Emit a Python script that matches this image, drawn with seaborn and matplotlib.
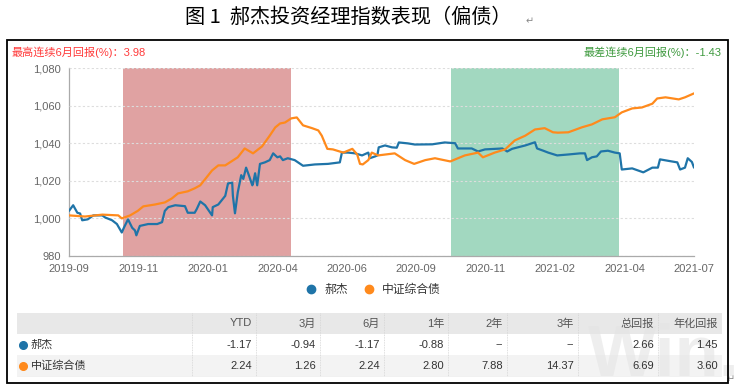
import matplotlib
matplotlib.use("Agg")
import matplotlib.pyplot as plt
import numpy as np
import pandas as pd
import seaborn as sns
from matplotlib.lines import Line2D
from matplotlib.patches import Rectangle
from matplotlib.ticker import FuncFormatter


# x positions are in units of the category axis (one unit per tick label)
TICK_LABELS = ["2019-09", "2019-11", "2020-01", "2020-04", "2020-06",
               "2020-09", "2020-11", "2021-02", "2021-04", "2021-07"]

HAOJIE_POS = [0.00, 0.06, 0.12, 0.16, 0.19, 0.27, 0.35, 0.48, 0.52, 0.62, 0.69, 0.76,
              0.79, 0.85, 0.91, 0.95, 0.97, 1.02, 1.14, 1.27, 1.34, 1.38, 1.43, 1.53,
              1.67, 1.71, 1.81, 1.84, 1.89, 1.96, 2.06, 2.07, 2.15, 2.25, 2.29, 2.35,
              2.36, 2.39, 2.43, 2.48, 2.51, 2.55, 2.58, 2.64, 2.65, 2.68, 2.71, 2.75,
              2.82, 2.89, 2.94, 3.00, 3.04, 3.08, 3.15, 3.25, 3.37, 3.54, 3.73, 3.90,
              3.93, 4.02, 4.12, 4.22, 4.31, 4.33, 4.41, 4.44, 4.46, 4.55, 4.65, 4.72,
              4.75, 4.88, 4.98, 5.23, 5.41, 5.56, 5.60, 5.80, 5.89, 5.99, 6.24, 6.31,
              6.38, 6.57, 6.71, 6.74, 6.83, 6.90, 7.03, 7.19, 7.36, 7.43, 7.46, 7.53,
              7.60, 7.66, 7.76, 7.86, 7.93, 7.96, 8.11, 8.27, 8.40, 8.48, 8.51, 8.68,
              8.76, 8.80, 8.87, 8.91, 8.97, 9.00]
HAOJIE_NAV = [1004.0, 1007.0, 1003.0, 1002.6, 999.0, 999.5, 1001.6, 1001.6, 1000.5, 999.0,
              997.0, 992.5, 995.0, 999.5, 995.0, 993.6, 991.0, 996.0, 997.0, 997.0,
              998.0, 1004.0, 1006.0, 1007.0, 1006.5, 1003.0, 1003.0, 1005.0, 1009.0, 1007.0,
              1001.6, 1006.0, 1007.4, 1012.0, 1018.6, 1019.0, 1012.0, 1002.7, 1013.8, 1023.0,
              1021.0, 1027.0, 1024.0, 1017.6, 1018.6, 1024.0, 1017.6, 1029.0, 1029.8, 1031.0,
              1034.6, 1032.5, 1033.0, 1031.0, 1032.0, 1031.0, 1028.0, 1028.7, 1029.0, 1029.8,
              1035.0, 1035.0, 1034.6, 1033.5, 1035.0, 1032.0, 1033.0, 1033.5, 1037.8, 1038.8,
              1037.8, 1037.6, 1040.4, 1039.9, 1039.3, 1039.4, 1040.4, 1040.0, 1037.2, 1037.2,
              1035.6, 1036.7, 1037.2, 1035.6, 1037.0, 1038.8, 1040.5, 1037.2, 1036.0, 1035.0,
              1033.5, 1034.0, 1034.6, 1034.6, 1031.0, 1032.5, 1033.0, 1035.6, 1036.0, 1035.0,
              1034.6, 1026.0, 1026.6, 1024.5, 1027.0, 1027.0, 1031.4, 1030.3, 1029.8, 1026.0,
              1027.0, 1032.0, 1030.0, 1027.0]

INDEX_POS = [0.00, 0.23, 0.48, 0.71, 0.76, 0.88, 0.99, 1.07, 1.24, 1.38, 1.48, 1.57,
             1.71, 1.81, 1.89, 2.06, 2.15, 2.25, 2.43, 2.53, 2.65, 2.78, 2.89, 2.97,
             3.04, 3.11, 3.20, 3.28, 3.37, 3.50, 3.59, 3.64, 3.72, 3.80, 3.95, 4.08,
             4.15, 4.19, 4.23, 4.31, 4.36, 4.45, 4.69, 4.84, 4.97, 5.13, 5.27, 5.49,
             5.70, 5.89, 5.96, 6.13, 6.28, 6.42, 6.57, 6.71, 6.85, 6.97, 7.04, 7.19,
             7.39, 7.53, 7.68, 7.86, 7.96, 8.11, 8.25, 8.40, 8.47, 8.59, 8.78, 8.87, 9.00]
INDEX_NAV = [1001.6, 1001.0, 1002.0, 1001.6, 1000.0, 1001.6, 1004.0, 1006.4, 1007.4, 1008.5,
             1010.6, 1013.3, 1014.4, 1016.0, 1017.6, 1025.5, 1028.2, 1028.2, 1032.5, 1037.2,
             1034.6, 1038.3, 1044.0, 1048.4, 1050.5, 1051.0, 1053.2, 1053.7, 1049.5, 1048.0,
             1046.8, 1044.0, 1037.0, 1036.7, 1035.0, 1037.0, 1034.0, 1029.0, 1028.7, 1031.0,
             1035.0, 1033.5, 1034.6, 1031.0, 1029.0, 1031.0, 1032.0, 1030.3, 1033.5, 1035.0,
             1032.5, 1035.0, 1036.7, 1041.5, 1044.0, 1047.3, 1048.0, 1045.8, 1045.6, 1045.8,
             1048.5, 1050.0, 1052.7, 1053.8, 1056.4, 1058.5, 1059.0, 1061.0, 1063.8, 1064.4,
             1063.3, 1064.4, 1066.5]

SERIES_NAMES = ["郝杰", "中证综合债"]
BEST_SPAN = [0.78, 3.20]
WORST_SPAN = [5.50, 7.92]
BEST_TEXT = "最高连续6月回报(%)：3.98"
WORST_TEXT = "最差连续6月回报(%)：-1.43"

TABLE_COLUMNS = ["YTD", "3月", "6月", "1年", "2年", "3年", "总回报", "年化回报"]
HAOJIE_RETURNS = ["-1.17", "-0.94", "-1.17", "-0.88", "--", "--", "2.66", "1.45"]
INDEX_RETURNS = ["2.24", "1.26", "2.24", "2.80", "7.88", "14.37", "6.69", "3.60"]

BLUE = "#1f74a8"
ORANGE = "#ff8a1c"
W, H = 736, 387

sns.set_style("white")
plt.rcParams["font.family"] = ["Liberation Sans", "Noto Sans CJK SC", "DejaVu Sans"]

df = pd.concat([
    pd.DataFrame({"pos": HAOJIE_POS, "nav": HAOJIE_NAV, "series": SERIES_NAMES[0]}),
    pd.DataFrame({"pos": INDEX_POS, "nav": INDEX_NAV, "series": SERIES_NAMES[1]}),
])

fig = plt.figure(figsize=(W / 100, H / 100), dpi=100)
fig.patch.set_facecolor("white")


def fx(px):
    return px / W


def fy(py):
    return 1 - py / H


# title and outer frame
fig.text(fx(348), fy(17), "图 1  郝杰投资经理指数表现（偏债）", ha="center", va="center",
         fontsize=14.5, color="black", family=["Noto Sans CJK SC", "DejaVu Sans"])
fig.text(fx(530), fy(21), "↵", ha="center", va="center", fontsize=7, color="#888888",
         family=["DejaVu Sans"])
fig.text(fx(731), fy(379), "↵", ha="center", va="center", fontsize=7, color="#888888",
         family=["DejaVu Sans"])
frame = Rectangle((fx(7), fy(383)), fx(721), 343 / H, transform=fig.transFigure,
                  fill=False, edgecolor="black", linewidth=1.3, zorder=10)
fig.patches.append(frame)

fig.text(fx(12), fy(52), BEST_TEXT, ha="left", va="center", fontsize=8, color="#ff3b3b")
fig.text(fx(722), fy(52), WORST_TEXT, ha="right", va="center", fontsize=8, color="#3f9a3f")

# main line chart
ax = fig.add_axes([fx(69), fy(256), fx(625), 188 / H])
ax.axvspan(*BEST_SPAN, color="#e0a2a2", zorder=0, linewidth=0)
ax.axvspan(*WORST_SPAN, color="#a2d8c0", zorder=0, linewidth=0)
sns.lineplot(data=df, x="pos", y="nav", hue="series", palette=[BLUE, ORANGE],
             estimator=None, linewidth=1.6, legend=False, ax=ax, zorder=3)

ax.set_xlim(0, len(TICK_LABELS) - 1)
ax.set_ylim(980, 1080)
ax.set_xticks(range(len(TICK_LABELS)))
ax.set_xticklabels(TICK_LABELS)
ax.set_yticks(np.arange(980, 1081, 20))
ax.yaxis.set_major_formatter(FuncFormatter(lambda v, _: f"{v:,.0f}"))
ax.set_xlabel("")
ax.set_ylabel("")
ax.grid(axis="y", linestyle=(0, (2, 2)), color="#dddddd", linewidth=0.8, zorder=1)
ax.set_axisbelow(False)
for side in ["top", "right"]:
    ax.spines[side].set_visible(False)
for side in ["left", "bottom"]:
    ax.spines[side].set_color("#aaaaaa")
    ax.spines[side].set_linewidth(0.9)
ax.tick_params(axis="both", colors="#aaaaaa", length=4, width=0.9, labelsize=8,
               labelcolor="#666666", pad=2)

handles = [Line2D([], [], marker="o", linestyle="", color=c, markersize=6)
           for c in (BLUE, ORANGE)]
fig.legend(handles, SERIES_NAMES, loc="center", bbox_to_anchor=(fx(370), fy(290)),
           ncol=2, frameon=False, fontsize=8.5, handletextpad=0.1, columnspacing=0.8,
           labelcolor="#333333")

# returns table
col_edges = [17, 192, 256, 320, 384, 448, 507, 578, 658, 722]
row_edges = [313, 334, 355, 377]
tax = fig.add_axes([fx(17), fy(377), fx(705), 64 / H])
tax.set_xlim(17, 722)
tax.set_ylim(377, 313)
tax.axis("off")
for (y0, y1), bg in zip(zip(row_edges[:-1], row_edges[1:]), ["#e8e8e8", "white", "#f3f3f3"]):
    tax.add_patch(Rectangle((17, y0), 705, y1 - y0, facecolor=bg, edgecolor="none", zorder=0))
for xe in col_edges[1:-1]:
    tax.plot([xe, xe], [313, 377], color="#d4d4d4", linestyle=(0, (1, 1)), linewidth=0.6, zorder=1)
tax.plot([17, 722], [376.5, 376.5], color="#dddddd", linewidth=0.8, zorder=1)

# faint watermark behind the numbers, cut by the outer frame
wm = tax.text(588, 357, "Win.d", ha="left", va="center", fontsize=52, fontweight="bold",
              color="#e4e4e4", alpha=0.6, zorder=0.5, clip_on=False)
wm.set_clip_path(frame)

row_mid = [(a + b) / 2 for a, b in zip(row_edges[:-1], row_edges[1:])]
for j, col in enumerate(TABLE_COLUMNS):
    tax.text(col_edges[j + 2] - 4, row_mid[0], col, ha="right", va="center",
             fontsize=8, color="#555555", zorder=3)
for i, (name, color, values) in enumerate(zip(SERIES_NAMES, [BLUE, ORANGE],
                                               [HAOJIE_RETURNS, INDEX_RETURNS])):
    y = row_mid[i + 1]
    tax.plot([23], [y], marker="o", color=color, markersize=5.5, zorder=3)
    tax.text(31, y, name, ha="left", va="center", fontsize=8, color="#333333", zorder=3)
    for j, val in enumerate(values):
        tax.text(col_edges[j + 2] - 4, y, val, ha="right", va="center",
                 fontsize=8, color="#333333", zorder=3)

fig.savefig("out.png", dpi=100, facecolor="white")
